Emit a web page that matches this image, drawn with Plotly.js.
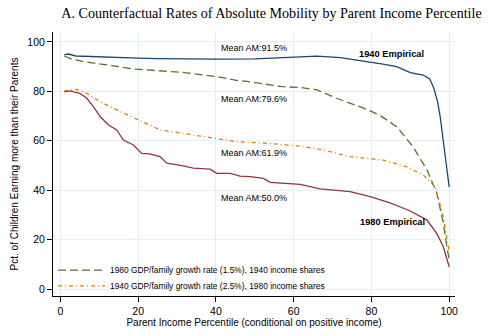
<!DOCTYPE html>
<html><head><meta charset="utf-8">
<script src="https://cdn.plot.ly/plotly-3.0.1.min.js"></script>
<style>html,body{margin:0;padding:0;background:#fff}#chart{width:500px;height:336px}</style>
</head><body><div id="chart"></div>
<script>
const xEmp1940 = [1,2,4,8,14,20,25,30,40,50,60,66,72,78,83,86.5,90,93.3,95,96,97,97.7,98.4,99,99.5,100];
const yEmp1940 = [94.7,95.1,94.3,94,93.8,93.4,93.2,93.1,93,93.1,93.8,94.2,93.6,92.3,91,90,87.6,86.6,85,81.5,76,69.6,61,52,46,41.3];

const xCf1980 = [1,3,6,11,15,19,25,32,40,45,48,53,57,62,66,71,75,78,82,86.5,90.7,94.3,96.8,98.5,99.3,100];
const yCf1980 = [94.3,93,92,91,90,89,88.4,87.6,86,84.5,84,83,81.9,81.5,80.6,77.2,75,73.2,70.5,65.7,57.6,48.2,38.9,26.7,18,12];

const xCf1940 = [1,4.2,6.8,10.2,14.5,19.7,23,25.6,31.6,36,40.2,45.4,53,57.3,62,67.6,74.5,83,89,93.3,96.4,98.5,99.7,100];
const yCf1940 = [80.2,80.8,79.2,75.8,72.5,68.7,66.4,64.4,63,61.9,61,59.6,59,58.3,57.8,56.3,53.6,52.2,49.5,46.2,41.4,29.3,17,15];

const xEmp1980 = [1,2.5,5,6.8,8.5,10.2,12.4,14.5,16.2,18.8,20.9,23,25.6,27.4,31.6,34.2,38.5,40.2,43.7,46.2,48.8,52.2,54,61.7,66.8,74.5,79.7,84.8,90,94.3,96.8,98.5,100];
const yEmp1980 = [79.8,80.2,79.2,77.2,73.8,69.8,66.4,64.4,60.3,58.3,54.9,54.7,53.6,50.9,49.8,48.9,48.5,46.8,46.8,45.7,45.5,44.8,43.2,42.4,40.5,39.4,37.4,34.9,31.6,27.9,22.5,17.1,9];

const legendNames = ["1980 GDP/family growth rate (1.5%), 1940 income shares","1940 GDP/family growth rate (2.5%), 1980 income shares"];
const xTicks = [0,20,40,60,80,100];
const yTicks = [0,20,40,60,80,100];
const meanLabels = ["Mean AM:91.5%","Mean AM:79.6%","Mean AM:61.9%","Mean AM:50.0%"];
const meanX = [49.8,49.8,49.8,49.8];
const meanY = [97.7,76.9,54.9,37.0];
const empLabels = ["1940 Empirical","1980 Empirical"];
const empX = [85.2,85.3];
const empY = [95.1,27.0];

const traces = [
  {x:xEmp1940,y:yEmp1940,mode:'lines',line:{color:'#1a476f',width:1.3},showlegend:false,hoverinfo:'skip'},
  {x:xEmp1980,y:yEmp1980,mode:'lines',line:{color:'#90353b',width:1.3},showlegend:false,hoverinfo:'skip'},
  {x:xCf1980,y:yCf1980,mode:'lines',name:legendNames[0],legend:'legend',line:{color:'#55752f',width:1.3,dash:'8px,4px'}},
  {x:xCf1940,y:yCf1940,mode:'lines',name:legendNames[1],legend:'legend2',line:{color:'#e37e00',width:1.3,dash:'4px,3px,1px,3px'}}
];

const annotations = [];
meanLabels.forEach((t,i)=>annotations.push({x:meanX[i],y:meanY[i],xref:'x',yref:'y',text:t,showarrow:false,font:{family:'Liberation Sans, Arial',size:9,color:'#000'}}));
empLabels.forEach((t,i)=>annotations.push({x:empX[i],y:empY[i],xref:'x',yref:'y',text:'<b>'+t+'</b>',showarrow:false,font:{family:'Liberation Sans, Arial',size:9.3,color:'#000'}}));

const legFont = {family:'Liberation Sans, Arial',size:8.4,color:'#000'};
const layout = {
  width:500,height:336,
  margin:{l:53,r:45,t:32,b:40},
  paper_bgcolor:'#fff',plot_bgcolor:'#fff',
  title:{text:'A. Counterfactual Rates of Absolute Mobility by Parent Income Percentile',font:{family:'Liberation Serif, Times New Roman',size:14.1,color:'#000'},x:0.543,xanchor:'center',y:0.962,yanchor:'middle'},
  xaxis:{range:[-1.9,101.5],tickvals:xTicks,ticks:'outside',ticklen:5,tickcolor:'#000',showline:true,linecolor:'#000',linewidth:1,
    showgrid:true,gridcolor:'#e4eef0',gridwidth:1,zeroline:false,tickfont:{family:'Liberation Sans, Arial',size:10.5,color:'#000'},
    title:{text:'Parent Income Percentile (conditional on positive income)',font:{family:'Liberation Sans, Arial',size:10,color:'#000'},standoff:2}},
  yaxis:{range:[-2.8,104],tickvals:yTicks,ticks:'outside',ticklen:5,tickcolor:'#000',showline:true,linecolor:'#000',linewidth:1,
    showgrid:true,gridcolor:'#e4eef0',gridwidth:1,zeroline:false,tickfont:{family:'Liberation Sans, Arial',size:10.5,color:'#000'},
    title:{text:'Pct. of Children Earning more than their Parents',font:{family:'Liberation Sans, Arial',size:10,color:'#000'},standoff:6}},
  legend:{x:0.0,y:0.098,xanchor:'left',yanchor:'middle',bgcolor:'rgba(0,0,0,0)',font:legFont,itemwidth:47},
  legend2:{x:0.0,y:0.038,xanchor:'left',yanchor:'middle',bgcolor:'rgba(0,0,0,0)',font:legFont,itemwidth:47},
  annotations:annotations,
  showlegend:true
};
Plotly.newPlot('chart',traces,layout,{displayModeBar:false,staticPlot:true});
</script></body></html>
